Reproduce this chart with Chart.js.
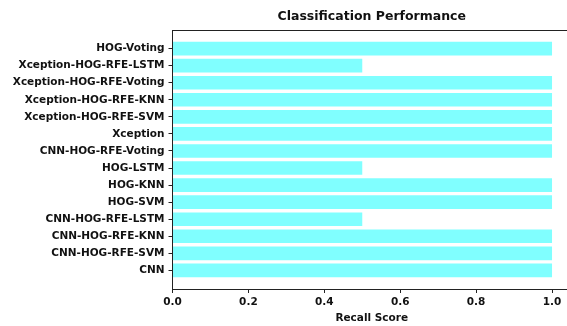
<!DOCTYPE html>
<html lang="en">
<head>
  <meta charset="UTF-8">
  <title>Classification Performance</title>
  <script src="https://cdn.jsdelivr.net/npm/chart.js"></script>
  <style>
    html, body {
      margin: 0;
      padding: 0;
      background: #fff;
      overflow: hidden;
    }
    #wrap {
      position: relative;
      width: 571px;
      height: 326px;
    }
  </style>
</head>
<body>
  <div id="wrap"><canvas id="recallChart" width="571" height="326"></canvas></div>

  <script>
    // bottom to top, like the barh plot
    const models = [
      'CNN',
      'CNN-HOG-RFE-SVM',
      'CNN-HOG-RFE-KNN',
      'CNN-HOG-RFE-LSTM',
      'HOG-SVM',
      'HOG-KNN',
      'HOG-LSTM',
      'CNN-HOG-RFE-Voting',
      'Xception',
      'Xception-HOG-RFE-SVM',
      'Xception-HOG-RFE-KNN',
      'Xception-HOG-RFE-Voting',
      'Xception-HOG-RFE-LSTM',
      'HOG-Voting'
    ];
    const recall = [1, 1, 1, 0.5, 1, 1, 0.5, 1, 1, 1, 1, 1, 0.5, 1];
    const xTicks = [0, 0.2, 0.4, 0.6, 0.8, 1.0];

    const font = { family: 'DejaVu Sans', weight: 'bold', size: 10.5 };

    // top spine (the right one is cut off in the original)
    const frame = {
      id: 'frame',
      afterDraw(chart) {
        const { ctx, chartArea: a } = chart;
        ctx.save();
        ctx.strokeStyle = '#222';
        ctx.lineWidth = 1;
        ctx.beginPath();
        ctx.moveTo(a.left, a.top + 0.5);
        ctx.lineTo(a.right, a.top + 0.5);
        ctx.stroke();
        ctx.restore();
      }
    };

    new Chart(document.getElementById('recallChart'), {
      type: 'bar',
      data: {
        datasets: [{
          label: 'Recall Score',
          data: recall.map((v, i) => ({ x: v, y: i })),
          backgroundColor: '#80ffff',
          borderWidth: 0,
          barPercentage: 0.8,
          categoryPercentage: 1.0
        }]
      },
      options: {
        indexAxis: 'y',
        responsive: false,
        animation: false,
        layout: { padding: 0 },
        plugins: {
          legend: { display: false },
          tooltip: { enabled: false },
          title: {
            display: true,
            text: 'Classification Performance',
            fullSize: false,
            color: '#111',
            font: { family: 'DejaVu Sans', weight: 'bold', size: 12.5 },
            padding: { top: 9, bottom: 6 }
          }
        },
        scales: {
          x: {
            type: 'linear',
            min: 0,
            max: 1.05,
            afterBuildTicks: s => { s.ticks = xTicks.map(v => ({ value: v })); },
            afterFit: s => { s.height = 37; },
            ticks: {
              color: '#111',
              font: font,
              padding: 3,
              maxRotation: 0,
              callback: v => v.toFixed(1)
            },
            grid: {
              drawOnChartArea: false,
              drawTicks: true,
              tickLength: 4,
              color: '#222'
            },
            border: { display: true, color: '#222', width: 1 },
            title: {
              display: true,
              text: 'Recall Score',
              color: '#111',
              font: font,
              padding: { top: 0, bottom: 1 }
            }
          },
          y: {
            type: 'linear',
            offset: false,
            min: -1.09,
            max: 14.09,
            afterBuildTicks: s => { s.ticks = models.map((_, i) => ({ value: i })); },
            afterFit: s => { s.width = 172.5; },
            ticks: {
              color: '#111',
              font: font,
              padding: 4,
              autoSkip: false,
              callback: v => models[v]
            },
            grid: {
              offset: false,
              drawOnChartArea: false,
              drawTicks: true,
              tickLength: 4,
              color: '#222'
            },
            border: { display: true, color: '#222', width: 1 }
          }
        }
      },
      plugins: [frame]
    });
  </script>
</body>
</html>
